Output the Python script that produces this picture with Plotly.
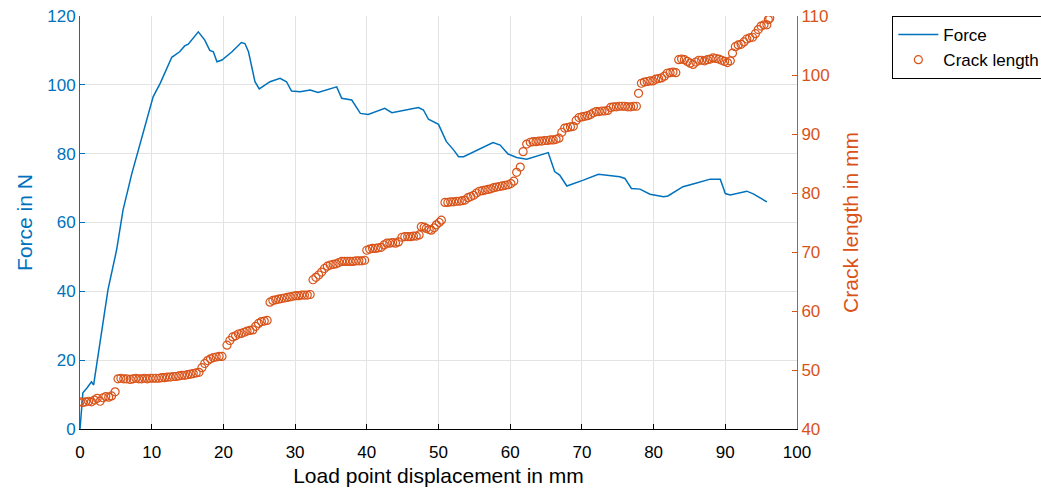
import plotly.graph_objects as go

# Force vs. load point displacement
disp_force = [0.0, 0.4, 1.0, 1.6, 1.9, 3.9, 5.1, 6.0, 7.2, 8.4, 10.2, 11.2, 12.8, 13.9,
              14.6, 15.1, 16.5, 17.4, 18.1, 18.6, 19.1, 19.8, 21.2, 22.5, 23.0, 23.5,
              24.4, 25.0, 26.5, 27.9, 28.8, 29.5, 30.7, 32.1, 33.2, 35.8, 36.5, 37.9,
              39.1, 40.2, 42.5, 43.5, 45.6, 47.2, 47.9, 48.6, 50.0, 51.1, 52.1, 52.8,
              53.5, 55.8, 57.6, 58.6, 59.7, 60.9, 62.3, 65.3, 66.2, 66.9, 67.9, 70.2,
              72.3, 75.3, 76.0, 76.9, 78.1, 79.5, 81.4, 82.0, 84.1, 86.0, 87.9, 89.3,
              90.0, 90.7, 93.0, 93.9, 95.8]
force = [0.0, 10.5, 12.0, 13.7, 12.8, 40.4, 52.0, 63.6, 74.0, 83.0, 96.5, 100.5, 108.0, 109.6,
         111.3, 111.8, 115.4, 113.0, 110.0, 109.6, 106.7, 107.2, 109.6, 112.3, 112.0, 109.6,
         100.9, 98.8, 100.9, 101.9, 100.9, 98.2, 98.0, 98.5, 97.8, 99.4, 96.1, 95.6,
         91.7, 91.4, 93.2, 91.9, 92.7, 93.4, 92.7, 90.0, 88.5, 83.5, 81.1, 79.1,
         79.1, 81.5, 83.2, 82.5, 79.9, 78.9, 78.4, 80.3, 74.8, 73.8, 70.6, 72.3,
         74.0, 73.3, 72.8, 69.9, 69.7, 68.2, 67.5, 67.7, 70.4, 71.5, 72.6, 72.6,
         68.4, 68.0, 69.1, 68.3, 66.0]

# Crack length vs. load point displacement
disp_crack = [0.0, 0.4, 0.8, 1.2, 1.6, 2.0, 2.4, 2.8, 3.2, 3.6, 4.0, 4.4, 4.9,
              5.3, 5.7, 6.1, 6.5, 7.0, 7.4, 7.8, 8.2, 8.6, 9.0, 9.4, 9.8, 10.2, 10.6,
              11.0, 11.4, 11.8, 12.2, 12.6, 13.0, 13.4, 13.8, 14.2, 14.6, 15.0, 15.4,
              15.8, 16.2, 16.6, 17.0, 17.4, 17.8, 18.2, 18.6, 19.0, 19.4, 19.8, 20.5,
              20.9, 21.3, 21.7, 22.1, 22.5, 22.9, 23.3, 23.7, 24.1, 24.5, 24.9, 25.3,
              25.7, 26.1, 26.5, 26.9, 27.3, 27.7, 28.1, 28.5, 28.9, 29.3, 29.7, 30.1,
              30.5, 30.9, 31.3, 31.7, 32.1, 32.5, 32.9, 33.3, 33.7, 34.1, 34.5, 34.9,
              35.3, 35.7, 36.1, 36.5, 36.9, 37.3, 37.7, 38.1, 38.5, 38.9, 39.3, 39.7,
              40.0, 40.4, 40.8, 41.2, 41.6, 42.0, 42.4, 42.8, 43.2, 43.6, 44.0, 44.4,
              44.9, 45.3, 45.7, 46.1, 46.5, 46.9, 47.3, 47.6, 48.0, 48.3, 48.7, 49.0,
              49.4, 49.7, 50.1, 50.4, 50.9, 51.3, 51.7, 52.1, 52.5, 52.9, 53.3, 53.7,
              54.1, 54.5, 54.9, 55.3, 55.7, 56.1, 56.5, 56.9, 57.3, 57.7, 58.1, 58.5,
              58.9, 59.3, 59.7, 60.1, 60.5, 60.9, 61.4, 61.8, 62.3, 62.8, 63.2, 63.6,
              64.0, 64.4, 64.8, 65.2, 65.6, 66.0, 66.4, 66.8, 67.2, 67.6, 68.0, 68.4,
              68.8, 69.2, 69.6, 70.0, 70.4, 70.8, 71.2, 71.6, 72.0, 72.4, 72.8, 73.2,
              73.6, 74.0, 74.4, 74.8, 75.2, 75.6, 76.0, 76.4, 76.8, 77.2, 77.6, 77.9,
              78.3, 78.7, 79.1, 79.5, 79.9, 80.3, 80.7, 81.1, 81.5, 81.9, 82.3, 82.7,
              83.1, 83.5, 83.9, 84.3, 84.7, 85.1, 85.5, 85.9, 86.3, 86.7, 87.1, 87.5,
              87.9, 88.3, 88.7, 89.1, 89.5, 89.9, 90.3, 90.7, 91.0, 91.4, 91.8, 92.2,
              92.6, 93.0, 93.4, 93.8, 94.2, 94.6, 95.0, 95.4, 95.8, 96.0, 96.2]
crack = [44.6, 44.5, 44.6, 44.7, 44.6, 44.9, 45.2, 44.7, 45.3, 45.5, 45.4, 45.6, 46.3,
         48.5, 48.6, 48.5, 48.5, 48.4, 48.5, 48.6, 48.5, 48.5, 48.6, 48.5, 48.6, 48.6, 48.6,
         48.6, 48.7, 48.7, 48.8, 48.8, 48.9, 48.9, 49.0, 49.1, 49.1, 49.2, 49.3,
         49.4, 49.5, 49.6, 50.4, 51.1, 51.6, 51.9, 52.1, 52.2, 52.3, 52.3, 54.2,
         55.0, 55.6, 55.8, 56.1, 56.2, 56.4, 56.6, 56.7, 56.8, 57.4, 57.9, 58.2,
         58.3, 58.4, 61.5, 61.8, 61.9, 62.0, 62.1, 62.2, 62.3, 62.4, 62.5, 62.6,
         62.6, 62.7, 62.7, 62.7, 62.8, 65.3, 65.7, 66.1, 66.6, 67.2, 67.6, 67.8,
         67.9, 68.0, 68.2, 68.4, 68.4, 68.4, 68.4, 68.4, 68.5, 68.5, 68.5, 68.6,
         70.3, 70.5, 70.6, 70.6, 70.7, 70.8, 71.2, 71.5, 71.5, 71.6, 71.5, 71.7,
         72.5, 72.6, 72.6, 72.6, 72.7, 72.7, 72.9, 74.3, 74.2, 74.0, 73.8, 73.7,
         74.1, 74.6, 75.0, 75.4, 78.4, 78.4, 78.5, 78.5, 78.6, 78.6, 78.7, 78.8,
         79.2, 79.4, 79.6, 80.0, 80.3, 80.4, 80.5, 80.6, 80.7, 80.9, 81.0, 81.1,
         81.2, 81.3, 81.4, 81.6, 82.0, 83.5, 84.4, 87.0, 88.3, 88.6, 88.7, 88.7,
         88.8, 88.8, 88.9, 88.9, 89.0, 89.0, 89.1, 89.3, 90.3, 91.0, 91.1, 91.2,
         91.3, 92.3, 92.8, 92.9, 93.0, 93.1, 93.3, 93.6, 93.8, 93.8, 93.9, 93.9,
         94.0, 94.5, 94.6, 94.6, 94.7, 94.7, 94.7, 94.6, 94.6, 94.7, 94.7, 96.9,
         98.6, 98.8, 98.9, 99.0, 99.0, 99.3, 99.4, 99.5, 99.8, 100.3, 100.4, 100.5,
         100.4, 102.6, 102.7, 102.6, 102.3, 102.0, 101.8, 102.2, 102.5, 102.5, 102.4, 102.6,
         102.7, 102.9, 102.8, 102.7, 102.5, 102.3, 102.1, 102.4, 103.7, 104.8, 105.1, 105.2,
         105.6, 106.1, 106.3, 106.4, 107.0, 107.7, 108.3, 108.5, 108.5, 109.4, 109.6]

x_ticks = [0, 10, 20, 30, 40, 50, 60, 70, 80, 90, 100]
force_ticks = [0, 20, 40, 60, 80, 100, 120]
crack_ticks = [40, 50, 60, 70, 80, 90, 100, 110]

BLUE = "rgb(0,114,189)"
ORANGE = "rgb(217,83,25)"
FONT = "Liberation Sans, Arial, sans-serif"
GRID = "#e3e3e3"

fig = go.Figure()
fig.add_trace(go.Scatter(
    x=disp_force, y=force, mode="lines", name="Force",
    line=dict(color=BLUE, width=1.5), yaxis="y",
))
fig.add_trace(go.Scatter(
    x=disp_crack, y=crack, mode="markers", name="Crack length",
    marker=dict(symbol="circle-open", size=8, color=ORANGE, line=dict(width=1.2)),
    yaxis="y2",
))

fig.update_layout(
    width=1041, height=490,
    margin=dict(l=80, r=244, t=16, b=61, autoexpand=False),
    paper_bgcolor="white", plot_bgcolor="white",
    font=dict(family=FONT, size=17, color="black"),
    showlegend=True,
    legend=dict(
        x=1.133, y=1.0, xanchor="left", yanchor="top",
        bgcolor="white", bordercolor="black", borderwidth=1,
        font=dict(family=FONT, size=17, color="black"),
        tracegroupgap=0, itemwidth=40,
    ),
    xaxis=dict(
        range=[0, 100], tickvals=x_ticks, ticktext=[str(v) for v in x_ticks],
        showline=True, linecolor="black", linewidth=1,
        ticks="inside", ticklen=5, tickcolor="black",
        showgrid=True, gridcolor=GRID, gridwidth=1, zeroline=False,
        tickfont=dict(size=17, color="black"), automargin=False,
        ticklabelstandoff=8,
        title=dict(text="Load point displacement in mm", font=dict(size=21, color="black"), standoff=6),
    ),
    yaxis=dict(
        range=[0, 120], tickvals=force_ticks, ticktext=[str(v) for v in force_ticks],
        showline=True, linecolor=BLUE, linewidth=1,
        ticks="inside", ticklen=5, tickcolor=BLUE,
        showgrid=True, gridcolor=GRID, gridwidth=1, zeroline=False,
        tickfont=dict(size=17, color=BLUE), automargin=False,
        title=dict(text="Force in N", font=dict(size=21, color=BLUE), standoff=8),
    ),
    yaxis2=dict(
        range=[40, 110], tickvals=crack_ticks, ticktext=[str(v) for v in crack_ticks],
        overlaying="y", side="right", anchor="x",
        showline=True, linecolor=ORANGE, linewidth=1,
        ticks="inside", ticklen=5, tickcolor=ORANGE,
        showgrid=False, zeroline=False,
        tickfont=dict(size=17, color=ORANGE), automargin=False,
        title=dict(text="Crack length in mm", font=dict(size=21, color=ORANGE), standoff=14),
    ),
)

fig.write_html("out.html")
